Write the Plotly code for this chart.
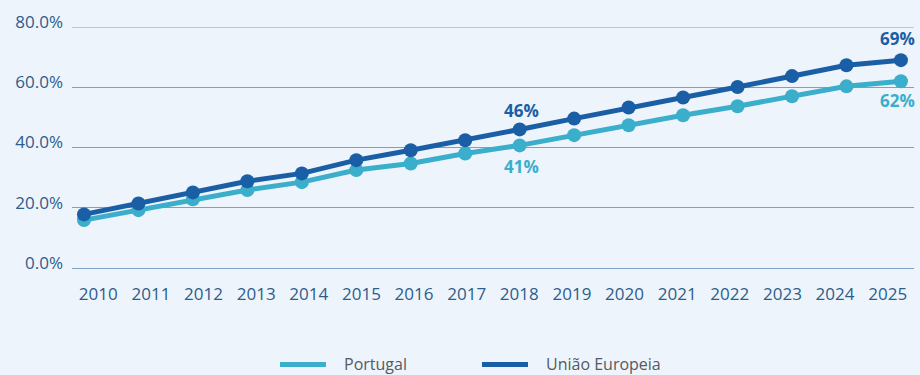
import plotly.graph_objects as go

# Série anual
years = list(range(2010, 2026))
portugal = [15.9, 19.2, 22.8, 25.9, 28.5, 32.5, 34.7, 38.0, 40.7, 44.1,
            47.4, 50.7, 53.7, 57.0, 60.3, 62.0]
uniao_europeia = [17.8, 21.4, 25.1, 28.8, 31.4, 35.8, 39.1, 42.4, 46.0, 49.6,
                  53.3, 56.6, 60.1, 63.7, 67.3, 69.0]
y_ticks = [0, 20, 40, 60, 80]
y_tick_labels = ["0.0%", "20.0%", "40.0%", "60.0%", "80.0%"]

PT_COLOR = "#3aaecb"
EU_COLOR = "#1a5ea5"
BG = "#eef4fb"
FONT = "Open Sans"
TICK_COLOR = "#2c5d8c"

fig = go.Figure()

# Traço transparente que ancora o eixo x dos anos (faixas de categoria)
fig.add_trace(go.Scatter(
    x=years, y=portugal, mode="markers", marker=dict(opacity=0),
    hoverinfo="skip", showlegend=False, xaxis="x",
))

# As linhas usam um eixo x próprio (x2)
fig.add_trace(go.Scatter(
    x=years, y=portugal, name="Portugal", mode="lines+markers",
    line=dict(color=PT_COLOR, width=5),
    marker=dict(color=PT_COLOR, size=14),
    xaxis="x2", showlegend=False,
))
fig.add_trace(go.Scatter(
    x=years, y=uniao_europeia, name="União Europeia", mode="lines+markers",
    line=dict(color=EU_COLOR, width=5),
    marker=dict(color=EU_COLOR, size=14),
    xaxis="x2", showlegend=False,
))

# Rótulos de valor em 2018 e 2025
label_specs = [
    (2018, uniao_europeia, EU_COLOR, 19),
    (2018, portugal, PT_COLOR, -21),
    (2025, uniao_europeia, EU_COLOR, 22),
    (2025, portugal, PT_COLOR, -19),
]
for yr, series, color, shift in label_specs:
    v = series[years.index(yr)]
    fig.add_annotation(
        x=yr, y=v, xref="x2", yref="y",
        text=f"<b>{v:.0f}%</b>", showarrow=False,
        yshift=shift, xshift=-3 if yr == 2025 else 2,
        font=dict(family=FONT, size=17, color=color),
    )

# Legenda desenhada em coordenadas do papel
PLOT_W, PLOT_H = 842, 241.3
legend_y = -(364.5 - 268) / PLOT_H
legend_items = [("Portugal", PT_COLOR, 280), ("União Europeia", EU_COLOR, 482)]
for name, color, x0 in legend_items:
    fig.add_shape(
        type="line", xref="paper", yref="paper",
        x0=(x0 - 72) / PLOT_W, x1=(x0 + 46 - 72) / PLOT_W,
        y0=legend_y, y1=legend_y,
        line=dict(color=color, width=5),
    )
    fig.add_annotation(
        x=(x0 + 62 - 72) / PLOT_W, y=legend_y,
        xref="paper", yref="paper", xanchor="left", yanchor="middle",
        text=name, showarrow=False,
        font=dict(family=FONT, size=16, color="#555a60"),
    )

# Linha de grelha superior (80%)
fig.add_shape(
    type="line", xref="paper", yref="y", x0=0, x1=1, y0=80, y1=80,
    line=dict(color="#8a9db3", width=1), layer="below",
)

fig.update_layout(
    width=920, height=375,
    margin=dict(l=72, r=6, t=27, b=107),
    paper_bgcolor=BG, plot_bgcolor=BG,
    font=dict(family=FONT, size=17, color=TICK_COLOR),
    showlegend=False,
    xaxis=dict(
        range=[years[0] - 0.5, years[-1] + 0.5], tickmode="array",
        tickvals=years, ticktext=[str(y) for y in years],
        showgrid=False, zeroline=False, showline=False,
        ticklabelstandoff=14,
        tickfont=dict(family=FONT, size=17, color=TICK_COLOR),
    ),
    xaxis2=dict(
        range=[2009.78, 2025.24], overlaying="x", anchor="y",
        showticklabels=False, ticks="", showgrid=False, zeroline=False,
        showline=False,
    ),
    yaxis=dict(
        range=[0, 80], tickmode="array", tickvals=y_ticks, ticktext=y_tick_labels,
        showgrid=True, gridcolor="#8a9db3", gridwidth=1,
        zeroline=True, zerolinecolor="#7fa2c8", zerolinewidth=1,
        showline=False, ticklabelstandoff=8, ticklabelshift=-5,
        tickfont=dict(family=FONT, size=17, color=TICK_COLOR),
    ),
)

fig.write_html("out.html")
